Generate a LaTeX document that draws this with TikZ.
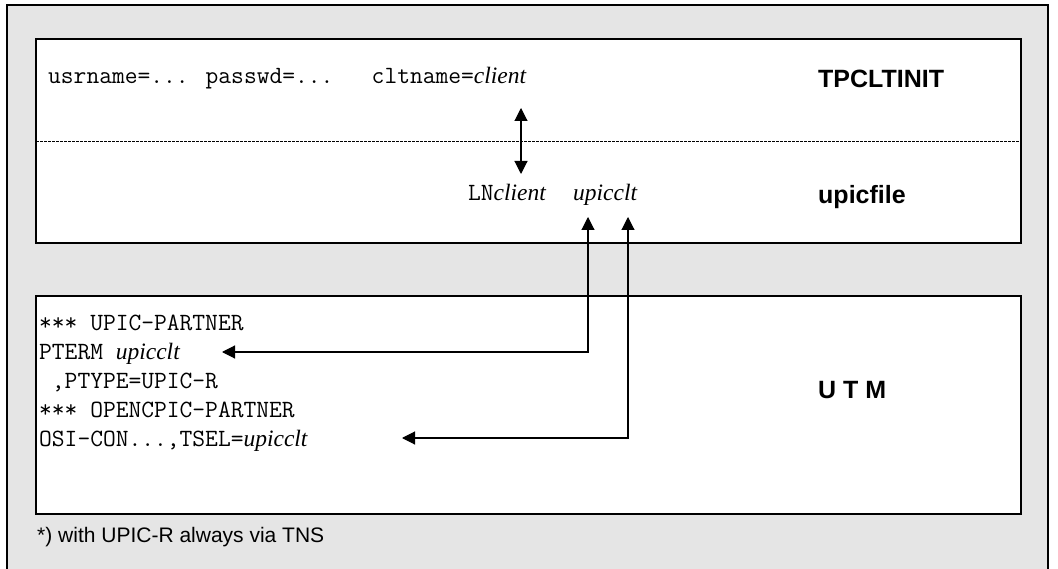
\documentclass[tikz,border=0pt]{standalone}
\usepackage{fontspec}
\setmainfont{Liberation Serif}
\setsansfont{Liberation Sans}
\usetikzlibrary{arrows.meta}
\definecolor{bggray}{RGB}{229,229,229}
\newcommand{\ivar}[1]{{\rmfamily\itshape\fontsize{23.5}{26}\selectfont #1}}

\tikzset{
  box/.style={draw=black, fill=white, line width=1.3pt},
  mono/.style={font=\fontsize{24.8}{28}\selectfont\ttfamily, inner sep=0pt, anchor=base west},
  tag/.style={font=\fontsize{25}{28}\selectfont\sffamily\bfseries, inner sep=0pt, anchor=base west},
  note/.style={font=\fontsize{21}{24}\selectfont\sffamily, inner sep=0pt, anchor=base west},
  link/.style={line width=1.1pt, {Triangle[length=13pt,width=13pt]}-{Triangle[length=13pt,width=13pt]}},
}

\begin{document}
\begin{tikzpicture}[x=1pt,y=-1pt]
  \def\bl{36};
  \def\br{1021};
  \def\tx{818};
  \def\rowA{330.5};
  \def\dy{29};
  \useasboundingbox (0,0) rectangle (1058,569);
  \fill[bggray] (7,5) rectangle (1048,569);
  \draw[line width=1.3pt] (7,569) |- (1048,5) -- (1048,569);
  % boxes
  \draw[box] (\bl,39) rectangle (\br,243);
  \draw[dash pattern=on 3pt off 1pt, line width=1pt] (\bl,142) -- (\br,142);
  \draw[box] (\bl,296) rectangle (\br,514);
  % TPCLTINIT part
  \node[mono] (login) at (48,84) {usrname=... passwd=...\ \ \ cltname=\ivar{client}};
  \node[tag] (tpinit) at (\tx,88) {TPCLTINIT};
  % upicfile part
  \node[mono] (lnclt) at (468,201) {LN\ivar{client}};
  \node[mono] (upic) at (573,201) {\ivar{upicclt}};
  \node[tag] (upfile) at (\tx,204) {upicfile};
  % UTM part
  \node[mono] (utmA) at (39,\rowA) {*** UPIC-PARTNER};
  \node[mono] (utmB) at (39,\rowA+\dy) {PTERM \ivar{upicclt}};
  \node[mono] (utmC) at (39,\rowA+2*\dy) {\ ,PTYPE=UPIC-R};
  \node[mono] (utmD) at (39,\rowA+3*\dy) {*** OPENCPIC-PARTNER};
  \node[mono] (utmE) at (39,\rowA+4*\dy) {OSI-CON...,TSEL=\ivar{upicclt}};
  \node[tag] (utm) at (\tx,399) {U T M};
  \node[note] (foot) at (37,542) {*) with UPIC-R always via TNS};
  % arrows
  \coordinate (cltup) at (521,108);
  \coordinate (cltdn) at (521,174);
  \coordinate (ptup) at (588,217);
  \coordinate (tsup) at (628,217);
  \coordinate (ptend) at (222,352);
  \coordinate (tsend) at (402,438);
  \draw[link] (cltup) -- (cltdn);
  \draw[link] (ptup) |- (ptend);
  \draw[link] (tsup) |- (tsend);
\end{tikzpicture}
\end{document}
